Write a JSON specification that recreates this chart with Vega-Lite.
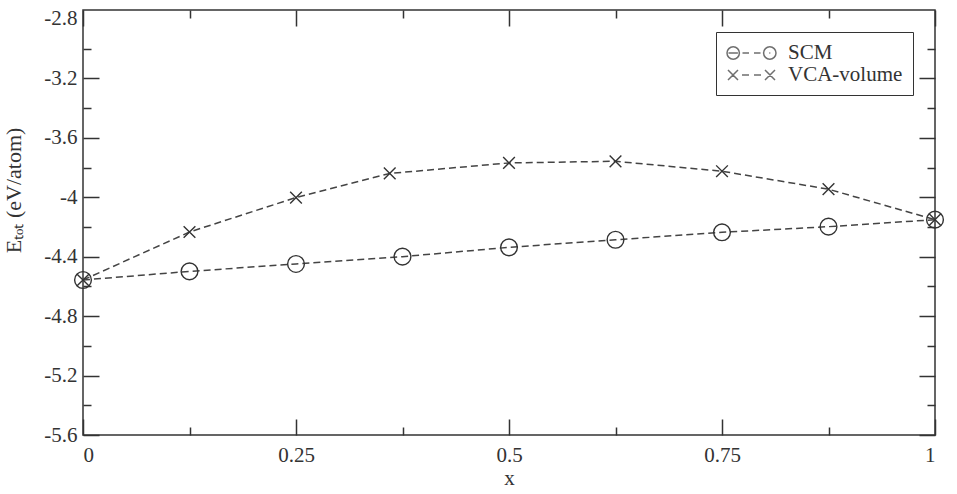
{
  "$schema": "https://vega.github.io/schema/vega-lite/v6.json",
  "width": 852,
  "height": 425,
  "autosize": "none",
  "padding": {"left": 83, "top": 10, "right": 22, "bottom": 59},
  "background": "white",
  "config": {
    "view": {"stroke": "#333", "strokeWidth": 1.5},
    "font": "Liberation Serif",
    "axis": {
      "grid": false,
      "domain": false,
      "tickColor": "#333",
      "tickWidth": 1.5,
      "labelFont": "Liberation Serif",
      "labelFontSize": 21,
      "labelColor": "#333",
      "titleFont": "Liberation Serif",
      "titleFontSize": 21,
      "titleFontWeight": "normal",
      "titleColor": "#333",
      "labelExpr": "toString(datum.value)"
    },
    "legend": {
      "labelFont": "Liberation Serif",
      "labelFontSize": 21,
      "labelColor": "#333",
      "symbolSize": 400,
      "symbolStrokeWidth": 1.5,
      "symbolStrokeColor": "#333",
      "symbolFillColor": "transparent",
      "labelOffset": 40,
      "rowPadding": 1,
      "padding": 10,
      "strokeColor": "#333",
      "fillColor": "white"
    }
  },
  "data": {
    "values": [
      {"series": "SCM", "x": 0, "y": -4.557},
      {"series": "SCM", "x": 0.125, "y": -4.499},
      {"series": "SCM", "x": 0.25, "y": -4.449},
      {"series": "SCM", "x": 0.375, "y": -4.4},
      {"series": "SCM", "x": 0.5, "y": -4.337},
      {"series": "SCM", "x": 0.625, "y": -4.286},
      {"series": "SCM", "x": 0.75, "y": -4.236},
      {"series": "SCM", "x": 0.875, "y": -4.198},
      {"series": "SCM", "x": 1, "y": -4.151},
      {"series": "VCA-volume", "x": 0, "y": -4.557},
      {"series": "VCA-volume", "x": 0.125, "y": -4.234},
      {"series": "VCA-volume", "x": 0.25, "y": -4.002},
      {"series": "VCA-volume", "x": 0.36, "y": -3.84},
      {"series": "VCA-volume", "x": 0.5, "y": -3.769},
      {"series": "VCA-volume", "x": 0.625, "y": -3.758},
      {"series": "VCA-volume", "x": 0.75, "y": -3.825},
      {"series": "VCA-volume", "x": 0.875, "y": -3.946},
      {"series": "VCA-volume", "x": 1, "y": -4.151}
    ]
  },
  "resolve": {"axis": {"x": "independent", "y": "independent"}, "scale": {"shape": "independent"}},
  "layer": [
    {
      "mark": {"type": "line", "stroke": "#444", "strokeWidth": 1.5, "strokeDash": [7, 4]},
      "encoding": {
        "x": {
          "field": "x", "type": "quantitative",
          "scale": {"domain": [0, 1], "nice": false, "zero": false},
          "axis": {"orient": "bottom", "values": [0, 0.25, 0.5, 0.75, 1], "tickSize": -16, "labelPadding": 25, "title": "x", "titlePadding": 2}
        },
        "y": {
          "field": "y", "type": "quantitative",
          "scale": {"domain": [-5.6, -2.74], "nice": false, "zero": false},
          "axis": {"orient": "left", "values": [-5.6, -5.2, -4.8, -4.4, -4, -3.6, -3.2, -2.8], "tickSize": -16, "labelPadding": 22, "title": "Eₜₒₜ (eV/atom)", "titleFontSize": 22, "titleX": -58, "titleY": 180,
            "tickOpacity": {"condition": {"test": "datum.value > -2.81", "value": 0}, "value": 1}}
        },
        "detail": {"field": "series"}
      }
    },
    {
      "mark": {"type": "point", "filled": false, "stroke": "#333", "strokeWidth": 1.4, "size": 280, "opacity": 1},
      "encoding": {
        "x": {"field": "x", "type": "quantitative",
          "axis": {"orient": "bottom", "values": [0.125, 0.375, 0.625, 0.875], "tickSize": -8, "labels": false, "title": null}},
        "y": {"field": "y", "type": "quantitative",
          "axis": {"orient": "left", "values": [-5.4, -5.0, -4.6, -4.2, -3.8, -3.4, -3.0], "tickSize": -8, "labels": false, "title": null}},
        "shape": {
          "field": "series", "type": "nominal",
          "scale": {"domain": ["SCM", "VCA-volume"], "range": ["circle", "M-0.7,-0.7L0.7,0.7M-0.7,0.7L0.7,-0.7"]},
          "legend": null
        }
      }
    },
    {
      "mark": {"type": "point", "opacity": 0},
      "encoding": {
        "x": {"field": "x", "type": "quantitative",
          "axis": {"orient": "top", "values": [0, 0.25, 0.5, 0.75, 1], "tickSize": -16, "labels": false, "title": null}},
        "y": {"field": "y", "type": "quantitative",
          "axis": {"orient": "right", "values": [-5.6, -5.2, -4.8, -4.4, -4, -3.6, -3.2, -2.8], "tickSize": -16, "labels": false, "title": null,
            "tickOpacity": {"condition": {"test": "datum.value > -2.81", "value": 0}, "value": 1}}}
      }
    },
    {
      "mark": {"type": "point", "opacity": 0},
      "encoding": {
        "x": {"field": "x", "type": "quantitative",
          "axis": {"orient": "top", "values": [0.125, 0.375, 0.625, 0.875], "tickSize": -8, "labels": false, "title": null}},
        "y": {"field": "y", "type": "quantitative",
          "axis": {"orient": "right", "values": [-5.4, -5.0, -4.6, -4.2, -3.8, -3.4, -3.0], "tickSize": -8, "labels": false, "title": null}}
      }
    },
    {
      "transform": [{"filter": "datum.x > 5"}],
      "mark": {"type": "point", "filled": false, "stroke": "#333", "strokeWidth": 1.5},
      "encoding": {
        "shape": {
          "field": "series", "type": "nominal",
          "scale": {"domain": ["SCM", "VCA-volume"], "range": [
            "M-1,0A0.62,0.62 0 1,0 0.24,0A0.62,0.62 0 1,0 -1,0ZM-0.85,0L0.09,0M0.55,0L1.2,0M1.7,0L2.35,0M2.66,0A0.62,0.62 0 1,0 3.9,0A0.62,0.62 0 1,0 2.66,0ZM3.23,0L3.33,0",
            "M-0.9,-0.5L0.1,0.5M-0.9,0.5L0.1,-0.5M0.5,0L1.2,0M1.7,0L2.4,0M2.8,-0.5L3.8,0.5M2.8,0.5L3.8,-0.5"
          ]},
          "legend": {
            "title": null,
            "orient": "top-right",
            "offset": 22
          }
        }
      }
    }
  ]
}
